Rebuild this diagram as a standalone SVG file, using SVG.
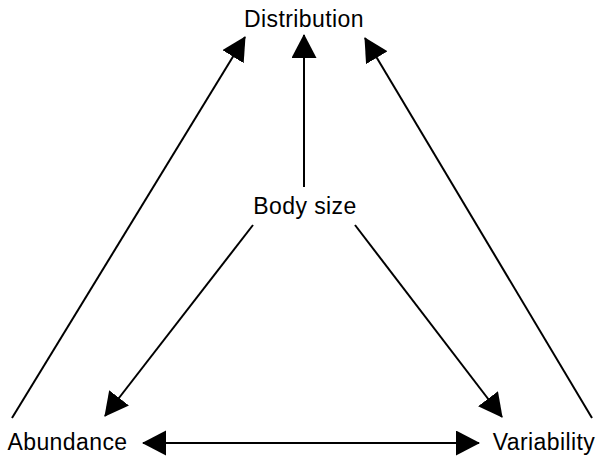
<svg xmlns="http://www.w3.org/2000/svg" width="596" height="456" viewBox="0 0 596 456">
<style>
.lbl{font-family:"Liberation Sans",Arial,Helvetica,sans-serif;font-size:23px;letter-spacing:0.4px;fill:#000;text-anchor:middle}
.edge{stroke:#000;stroke-width:2;fill:none}
</style>
<defs>
<marker id="ah" markerUnits="userSpaceOnUse" markerWidth="24" markerHeight="26" viewBox="0 0 24 26" refX="23" refY="12.5" orient="auto-start-reverse">
<path d="M0,0 L24,12.5 L0,25 z" fill="#000"/>
</marker>
</defs>
<rect width="596" height="456" fill="#fff"/>
<g id="connectors">
<line class="edge" x1="12" y1="418" x2="245" y2="37" marker-end="url(#ah)"/>
<line class="edge" x1="304" y1="187" x2="304" y2="35" marker-end="url(#ah)"/>
<line class="edge" x1="592" y1="418" x2="365" y2="38" marker-end="url(#ah)"/>
<line class="edge" x1="253" y1="225" x2="105" y2="416" marker-end="url(#ah)"/>
<line class="edge" x1="355" y1="225" x2="502" y2="417" marker-end="url(#ah)"/>
<line class="edge" x1="143" y1="443" x2="479" y2="443" marker-start="url(#ah)" marker-end="url(#ah)"/>
</g>
<g id="distribution"><text class="lbl" x="304" y="27">Distribution</text></g>
<g id="body-size"><text class="lbl" x="305" y="214">Body size</text></g>
<g id="abundance"><text class="lbl" x="67.5" y="450">Abundance</text></g>
<g id="variability"><text class="lbl" x="544" y="450">Variability</text></g>
</svg>
